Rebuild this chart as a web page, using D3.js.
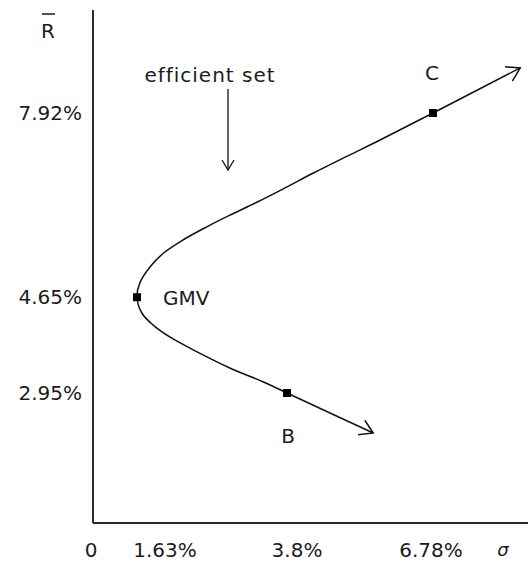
<!DOCTYPE html>
<html>
<head>
<meta charset="utf-8">
<script src="https://cdn.jsdelivr.net/npm/d3@7"></script>
<style>
  html, body { margin: 0; padding: 0; background: #fff; }
  svg { display: block; }
  text { font-family: "DejaVu Sans", sans-serif; fill: #1c1c1c; }
</style>
</head>
<body>
<div id="chart"></div>
<script>
// ---- data ----
const xTickValues = [0, 1.63, 3.8, 6.78];
const xTickLabels = ["0", "1.63%", "3.8%", "6.78%"];
const yTickValues = [7.92, 4.65, 2.95];
const yTickLabels = ["7.92%", "4.65%", "2.95%"];

const pointNames = ["B", "GMV", "C"];
const pointSigma = [3.8, 1.63, 6.78];
const pointReturn = [2.95, 4.65, 7.92];

// frontier, from the lower arrow tip to the upper one
const curveSigma  = [5.56, 3.80, 3.45, 2.98, 2.50, 2.11, 1.86, 1.70, 1.63, 1.67, 1.82, 2.01, 2.30, 2.64, 2.98, 3.37, 3.74, 4.33, 5.02, 5.70, 6.78, 8.56];
const curveReturn = [2.24, 2.95, 3.15, 3.39, 3.68, 3.94, 4.16, 4.37, 4.65, 4.90, 5.19, 5.43, 5.67, 5.90, 6.11, 6.34, 6.57, 6.85, 7.15, 7.44, 7.92, 8.72];

const annotationText = "efficient set";

// ---- layout ----
const W = 528, H = 565;
const axisX = 93, axisY = 523, axisTop = 10;
const fontSize = 20;

const svg = d3.select("#chart").append("svg")
  .attr("width", W).attr("height", H)
  .attr("viewBox", `0 0 ${W} ${H}`);

svg.append("rect").attr("width", W).attr("height", H).attr("fill", "#fff");

// schematic (piecewise) sigma scale, linear return scale
const x = d3.scaleLinear().domain(xTickValues).range([93, 137, 287, 433]);
const y = d3.scaleLinear().domain([2.95, 7.92]).range([393, 113]);

// markers
const defs = svg.append("defs");
defs.append("marker")
  .attr("id", "openArrow")
  .attr("markerUnits", "userSpaceOnUse")
  .attr("viewBox", "-16 -10 18 20")
  .attr("refX", 0).attr("refY", 0)
  .attr("markerWidth", 18).attr("markerHeight", 20)
  .attr("orient", "auto-start-reverse")
  .append("path")
  .attr("d", "M-13,-8 L0,0 L-13,8")
  .attr("fill", "none").attr("stroke", "#111").attr("stroke-width", 1.5);

defs.append("marker")
  .attr("id", "smallArrow")
  .attr("markerUnits", "userSpaceOnUse")
  .attr("viewBox", "-12 -8 14 16")
  .attr("refX", 0).attr("refY", 0)
  .attr("markerWidth", 14).attr("markerHeight", 16)
  .attr("orient", "auto")
  .append("path")
  .attr("d", "M-10,-6 L0,0 L-10,6")
  .attr("fill", "none").attr("stroke", "#111").attr("stroke-width", 1.3);

// axes
svg.append("line")
  .attr("x1", axisX).attr("x2", axisX).attr("y1", axisTop).attr("y2", axisY)
  .attr("stroke", "#2a2a2a").attr("stroke-width", 2);
svg.append("line")
  .attr("x1", axisX).attr("x2", W).attr("y1", axisY).attr("y2", axisY)
  .attr("stroke", "#2a2a2a").attr("stroke-width", 2);

// x tick labels (schematic offsets as drawn in the figure)
const xLabelDx = [-2, 28, 10, -2];
svg.append("g").selectAll("text")
  .data(xTickValues)
  .join("text")
  .attr("x", (d, i) => x(d) + xLabelDx[i])
  .attr("y", 557)
  .attr("text-anchor", "middle")
  .attr("font-size", fontSize)
  .text((d, i) => xTickLabels[i]);

svg.append("text")
  .attr("x", 503).attr("y", 556)
  .attr("text-anchor", "middle")
  .attr("font-size", 18)
  .attr("font-style", "italic")
  .text("σ");

// y tick labels
svg.append("g").selectAll("text")
  .data(yTickValues)
  .join("text")
  .attr("x", 82)
  .attr("y", d => y(d) + 7)
  .attr("text-anchor", "end")
  .attr("font-size", fontSize)
  .text((d, i) => yTickLabels[i]);

// y axis title R-bar (mean return)
svg.append("text")
  .attr("x", 48).attr("y", 38)
  .attr("text-anchor", "middle")
  .attr("font-size", fontSize)
  .text("R");
svg.append("line")
  .attr("x1", 42).attr("x2", 55).attr("y1", 14).attr("y2", 14)
  .attr("stroke", "#1c1c1c").attr("stroke-width", 1.5);

// frontier curve
const pts = curveSigma.map((s, i) => [x(s), y(curveReturn[i])]);
svg.append("path")
  .attr("d", d3.line().curve(d3.curveCatmullRom.alpha(0.5))(pts))
  .attr("fill", "none")
  .attr("stroke", "#111")
  .attr("stroke-width", 1.5)
  .attr("marker-start", "url(#openArrow)")
  .attr("marker-end", "url(#openArrow)");

// key points
svg.append("g").selectAll("rect")
  .data(pointSigma)
  .join("rect")
  .attr("x", (d) => x(d) - 4)
  .attr("y", (d, i) => y(pointReturn[i]) - 4)
  .attr("width", 8).attr("height", 8)
  .attr("fill", "#000");

// point labels
const labelDx = [1, 26, -1];
const labelDy = [50, 8, -33];
const labelAnchor = ["middle", "start", "middle"];
svg.append("g").selectAll("text")
  .data(pointNames)
  .join("text")
  .attr("x", (d, i) => x(pointSigma[i]) + labelDx[i])
  .attr("y", (d, i) => y(pointReturn[i]) + labelDy[i])
  .attr("text-anchor", (d, i) => labelAnchor[i])
  .attr("font-size", fontSize)
  .text(d => d);

// annotation
svg.append("text")
  .attr("x", 210).attr("y", 82)
  .attr("text-anchor", "middle")
  .attr("font-size", fontSize)
  .attr("letter-spacing", 1)
  .text(annotationText);

svg.append("line")
  .attr("x1", 228).attr("x2", 228).attr("y1", 89).attr("y2", 170)
  .attr("stroke", "#111").attr("stroke-width", 1.3)
  .attr("marker-end", "url(#smallArrow)");
</script>
</body>
</html>
